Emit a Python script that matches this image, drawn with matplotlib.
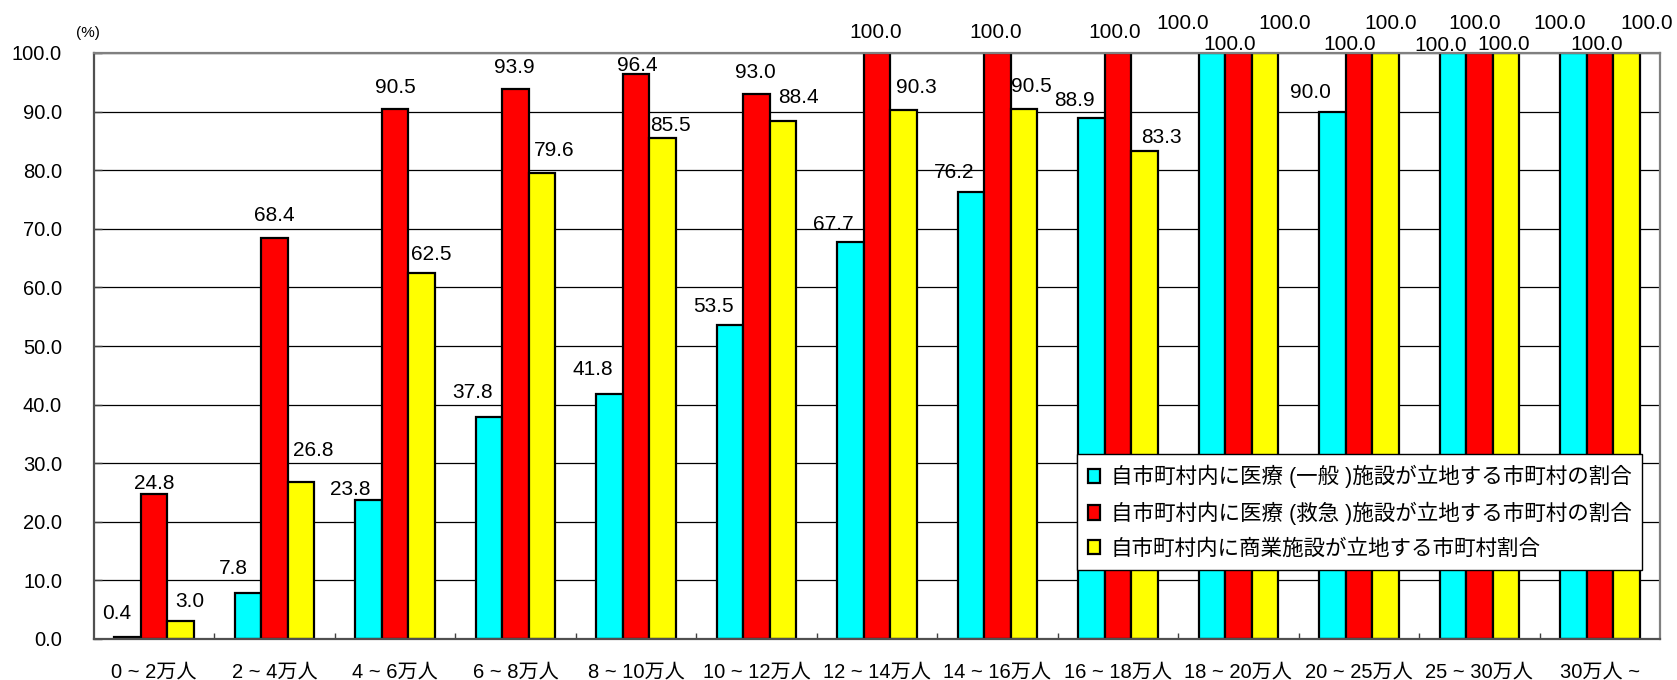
import matplotlib.pyplot as plt
import numpy as np

plt.rcParams['font.family'] = ['Liberation Sans', 'Noto Sans CJK JP']

# population classes of the municipality
categories = ["0 ~ 2万人", "2 ~ 4万人", "4 ~ 6万人", "6 ~ 8万人", "8 ~ 10万人", "10 ~ 12万人",
              "12 ~ 14万人", "14 ~ 16万人", "16 ~ 18万人", "18 ~ 20万人", "20 ~ 25万人",
              "25 ~ 30万人", "30万人 ~"]

# share of municipalities (%) with the facility inside their own area
general = [0.4, 7.8, 23.8, 37.8, 41.8, 53.5, 67.7, 76.2, 88.9, 100.0, 90.0, 100.0, 100.0]
emergency = [24.8, 68.4, 90.5, 93.9, 96.4, 93.0, 100.0, 100.0, 100.0, 100.0, 100.0, 100.0, 100.0]
commercial = [3.0, 26.8, 62.5, 79.6, 85.5, 88.4, 90.3, 90.5, 83.3, 100.0, 100.0, 100.0, 100.0]

series_names = ["自市町村内に医療 (一般 )施設が立地する市町村の割合",
                "自市町村内に医療 (救急 )施設が立地する市町村の割合",
                "自市町村内に商業施設が立地する市町村割合"]
colors = ["#00FFFF", "#FF0000", "#FFFF00"]

# where each value label sits relative to the top of its bar (pixels: dx, dy to text centre)
label_nudge = [
    [(-11, 25), (-15, 26), (-18, 12), (-17, 26), (-17, 26), (-17, 20), (-17, 19),
     (-17, 21), (-17, 19), (-29, 31), (-22, 21), (-12, 9), (-14, 31)],
    [(0, 12), (0, 24), (0, 23), (-1, 23), (1, 10), (-1, 23), (-1, 22),
     (-2, 22), (-3, 22), (-9, 10), (-9, 10), (-5, 31), (-3, 10)],
    [(9, 21), (12, 33), (10, 20), (12, 24), (8, 14), (15, 25), (13, 24),
     (7, 24), (17, 15), (20, 31), (5, 31), (-2, 10), (20, 31)],
]

W, H = 1677, 680
fig = plt.figure(figsize=(W / 100, H / 100), dpi=100)
ax = fig.add_axes([94 / W, 1 - 639 / H, 1566 / W, 586 / H])

x = np.arange(len(categories))
width = 0.22
for k, (vals, name, col) in enumerate(zip([general, emergency, commercial], series_names, colors)):
    xs = x + (k - 1) * width
    ax.bar(xs, vals, width, color=col, edgecolor="black", linewidth=1.6, label=name, zorder=2)
    for xi, v, (dx, dy) in zip(xs, vals, label_nudge[k]):
        ax.annotate(f"{v:.1f}", xy=(xi, v), xytext=(dx, dy - 7), textcoords="offset pixels",
                    ha="center", va="baseline", fontsize=15, zorder=5, annotation_clip=False)

ax.set_xlim(-0.5, len(categories) - 0.5)
ax.set_ylim(0, 100)
ax.set_yticks(np.arange(0, 101, 10))
ax.set_yticklabels([f"{v:.1f}" for v in np.arange(0, 101, 10)], fontsize=14.5)
ax.set_xticks(x)
ax.set_xticklabels(categories, fontsize=14.5)
ax.set_xticks(np.arange(0.5, len(categories) - 0.5, 1), minor=True)

ax.tick_params(axis="x", which="major", length=0, pad=17)
ax.tick_params(axis="x", which="minor", direction="in", length=4.5, width=1, color="#404040")
ax.tick_params(axis="y", direction="in", length=5.5, width=1, pad=23, color="#404040")

ax.yaxis.grid(True, color="black", linewidth=0.9)
ax.set_axisbelow(True)

for side in ["top", "right"]:
    ax.spines[side].set_color("#808080")
    ax.spines[side].set_linewidth(1.6)
for side in ["left", "bottom"]:
    ax.spines[side].set_color("#505050")
    ax.spines[side].set_linewidth(1.6)

fig.text(88 / W, 1 - 33 / H, "(%)", ha="center", va="center", fontsize=11)

leg = ax.legend(loc="upper left", bbox_to_anchor=(0.628, 0.315), borderaxespad=0,
                fontsize=15.5, frameon=True, fancybox=False, shadow=False,
                handlelength=0.55, handleheight=0.65, handletextpad=0.5,
                borderpad=0.5, labelspacing=0.62)
leg.get_frame().set_edgecolor("black")
leg.get_frame().set_linewidth(1.0)
leg.get_frame().set_alpha(1)
leg.set_zorder(10)

fig.savefig("out.png", dpi=100)
